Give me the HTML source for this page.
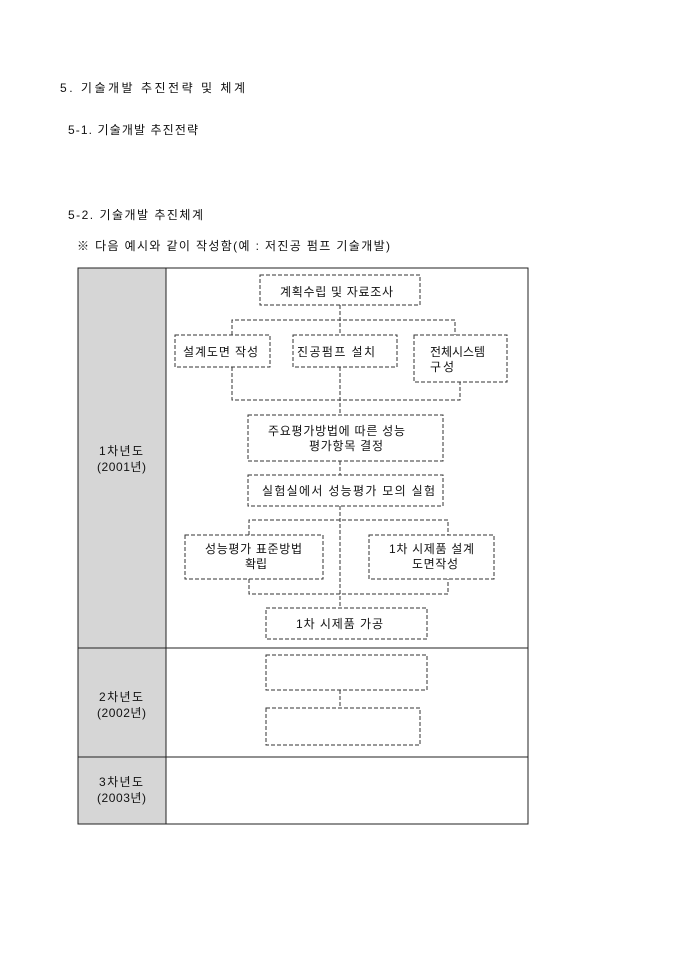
<!DOCTYPE html>
<html><head><meta charset="utf-8"><style>
html,body{margin:0;padding:0;background:#fff;width:680px;height:962px;overflow:hidden}
svg text{font-family:"Liberation Sans","Noto Sans CJK KR",sans-serif;font-size:12px;fill:#111}
</style></head><body>
<svg width="680" height="962" viewBox="0 0 680 962" xmlns="http://www.w3.org/2000/svg">
<text x="60" y="92" font-size="13" textLength="185" lengthAdjust="spacing">5. 기술개발 추진전략 및 체계</text>
<text x="68" y="134" textLength="130" lengthAdjust="spacing">5-1. 기술개발 추진전략</text>
<text x="68" y="219" textLength="135" lengthAdjust="spacing">5-2. 기술개발 추진체계</text>
<text x="77" y="250" textLength="313" lengthAdjust="spacing">※ 다음 예시와 같이 작성함(예 : 저진공 펌프 기술개발)</text>

<rect x="78" y="268" width="88" height="556" fill="#d6d6d6"/>
<rect x="78" y="268" width="450" height="556" fill="none" stroke="#222" stroke-width="1"/>
<line x1="166" y1="268" x2="166" y2="824" stroke="#222"/>
<line x1="78" y1="648" x2="528" y2="648" stroke="#222"/>
<line x1="78" y1="757" x2="528" y2="757" stroke="#222"/>

<g lengthAdjust="spacing">
<text x="99" y="455" textLength="44">1차년도</text><text x="97" y="471" textLength="49">(2001년)</text>
<text x="99" y="701" textLength="44">2차년도</text><text x="97" y="717" textLength="49">(2002년)</text>
<text x="99" y="786" textLength="44">3차년도</text><text x="97" y="802" textLength="49">(2003년)</text>
</g>

<g fill="none" stroke="#333" stroke-width="1" stroke-dasharray="4,2">
<rect x="260" y="275" width="160" height="30"/>
<line x1="340" y1="305" x2="340" y2="335"/>
<polyline points="232,335 232,320 455,320 455,335"/>
<rect x="175" y="335" width="95" height="32"/>
<rect x="293" y="335" width="104" height="32"/>
<rect x="414" y="335" width="93" height="47"/>
<polyline points="232,367 232,400 460,400 460,382"/>
<line x1="340" y1="367" x2="340" y2="415"/>
<rect x="248" y="415" width="195" height="46"/>
<line x1="340" y1="461" x2="340" y2="475"/>
<rect x="248" y="475" width="195" height="31"/>
<line x1="340" y1="506" x2="340" y2="608"/>
<polyline points="249,535 249,520 448,520 448,535"/>
<rect x="185" y="535" width="138" height="44"/>
<rect x="369" y="535" width="125" height="44"/>
<polyline points="249,579 249,594 448,594 448,579"/>
<rect x="266" y="608" width="161" height="31"/>
<rect x="266" y="655" width="161" height="35"/>
<line x1="340" y1="690" x2="340" y2="708"/>
<rect x="266" y="708" width="154" height="37"/>
</g>

<text x="280" y="296" textLength="113" lengthAdjust="spacing">계획수립 및 자료조사</text>
<text x="183" y="356" textLength="75" lengthAdjust="spacing">설계도면 작성</text>
<text x="297" y="356" textLength="78" lengthAdjust="spacing">진공펌프 설치</text>
<text x="430" y="356" textLength="55" lengthAdjust="spacing">전체시스템</text>
<text x="430" y="371" textLength="24" lengthAdjust="spacing">구성</text>
<text x="268" y="435" textLength="137" lengthAdjust="spacing">주요평가방법에 따른 성능</text>
<text x="309" y="450" textLength="74" lengthAdjust="spacing">평가항목 결정</text>
<text x="262" y="495" textLength="173" lengthAdjust="spacing">실험실에서 성능평가 모의  실험</text>
<text x="205" y="553" textLength="97" lengthAdjust="spacing">성능평가 표준방법</text>
<text x="245" y="568" textLength="22" lengthAdjust="spacing">확립</text>
<text x="389" y="553" textLength="85" lengthAdjust="spacing">1차 시제품 설계</text>
<text x="412" y="568" textLength="46" lengthAdjust="spacing">도면작성</text>
<text x="296" y="628" textLength="87" lengthAdjust="spacing">1차 시제품 가공</text>
</svg>
</body></html>
